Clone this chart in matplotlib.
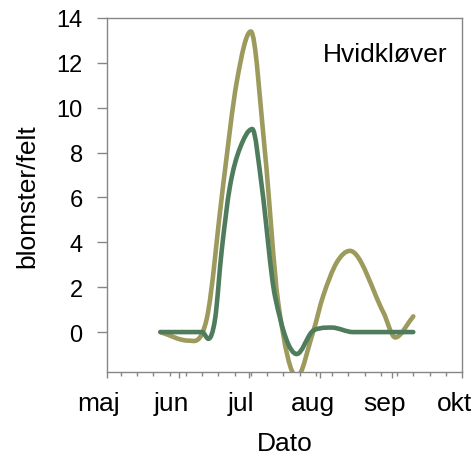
import matplotlib
matplotlib.use("Agg")
import matplotlib.pyplot as plt
import matplotlib.transforms as mtransforms
from matplotlib.path import Path
from matplotlib.patches import PathPatch
import numpy as np

# days counted from 1 May
month_days = [0, 31, 61, 92, 123, 153]
month_labels = ["maj", "jun", "jul", "aug", "sep", "okt"]

# Hvidkløver, two series
olive_days = [23, 35, 43, 50, 56, 62.0, 68, 73.8, 81.8, 88.8, 93.2, 99, 104.7, 119.1, 124.2, 132]
olive_vals = [0, -0.38, 0.6, 6.5, 11.2, 13.4, 8.1, 1.3, -2.0, 0, 1.62, 3.1, 3.62, 0.88, -0.24, 0.7]

green_days = [23, 32, 41, 43.7, 46.6, 49.4, 53, 57.3, 62.6, 66.7, 72.4, 81.8, 88.2, 92, 96.9, 106, 119, 132]
green_vals = [0, 0, 0, -0.3, 0.6, 3.6, 6.5, 8.2, 9.05, 6.5, 1.6, -0.98, 0, 0.17, 0.2, 0, 0, 0]


def smooth_path(xs, ys):
    # smoothed line: cubic Hermite in x, flat at turning points, as Bezier segments
    x = np.asarray(xs, float)
    y = np.asarray(ys, float)
    m = np.empty_like(y)
    m[1:-1] = (y[2:] - y[:-2]) / (x[2:] - x[:-2])
    turn = (y[1:-1] - y[:-2]) * (y[2:] - y[1:-1]) <= 0
    m[1:-1][turn] = 0
    m[0] = (y[1] - y[0]) / (x[1] - x[0])
    m[-1] = (y[-1] - y[-2]) / (x[-1] - x[-2])
    verts = [(x[0], y[0])]
    codes = [Path.MOVETO]
    for i in range(len(x) - 1):
        h = x[i + 1] - x[i]
        verts += [(x[i] + h / 3, y[i] + m[i] * h / 3),
                  (x[i + 1] - h / 3, y[i + 1] - m[i + 1] * h / 3),
                  (x[i + 1], y[i + 1])]
        codes += [Path.CURVE4] * 3
    return Path(verts, codes)


plt.rcParams['font.family'] = ['Liberation Sans', 'DejaVu Sans']
frame = '#868686'

fig = plt.figure(figsize=(4.75, 4.64), dpi=100)
ax = fig.add_axes([107 / 475, 1 - 373 / 464, 355 / 475, 354 / 464])

ax.add_patch(PathPatch(smooth_path(olive_days, olive_vals), fill=False,
                       edgecolor='#9c9a5c', lw=3.3, capstyle='round', joinstyle='round'))
ax.add_patch(PathPatch(smooth_path(green_days, green_vals), fill=False,
                       edgecolor='#4f7c5c', lw=3.3, capstyle='round', joinstyle='round'))

ax.set_xlim(0, 153)
ax.set_ylim(-1.78, 14)
ax.set_yticks(range(0, 15, 2))
ax.set_xticks(month_days)
ax.set_xticklabels(month_labels)
ax.set_xticks(list(range(6, 153, 7)), minor=True)

for sp in ax.spines.values():
    sp.set_color(frame)
    sp.set_linewidth(1.0)
ax.tick_params(axis='y', length=7, width=1, color=frame, pad=10.5, labelsize=17)
ax.tick_params(axis='x', which='major', length=4.5, width=1, color=frame, pad=9, labelsize=19)
ax.tick_params(axis='x', which='minor', length=3, width=1, color=frame)

shift = mtransforms.ScaledTranslation(-8 / 100, 0, fig.dpi_scale_trans)
for lab in ax.get_xticklabels():
    lab.set_transform(lab.get_transform() + shift)

ax.set_xlabel('Dato', fontsize=19, labelpad=12)
ax.set_ylabel('blomster/felt', fontsize=19, labelpad=12)
ax.text(0.607, 0.879, 'Hvidkløver', transform=ax.transAxes, fontsize=19, ha='left', va='baseline')

fig.savefig('out.png', dpi=100)
